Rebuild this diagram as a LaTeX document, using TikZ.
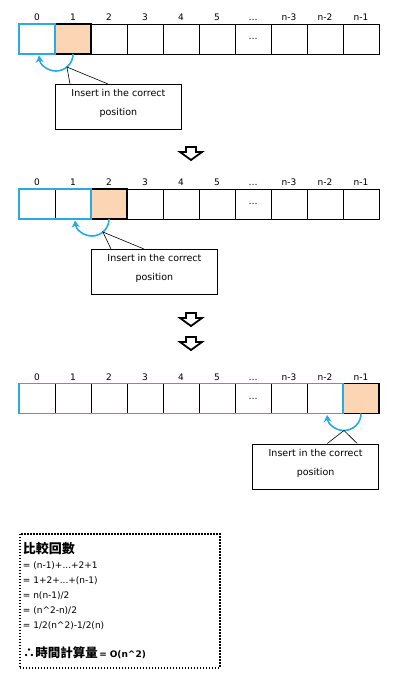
\documentclass[tikz,border=0pt]{standalone}
\usepackage{fontspec}
\setmainfont{DejaVu Sans}
\newfontfamily\cjk{Noto Sans CJK TC}
\usetikzlibrary{positioning,arrows.meta}
\definecolor{arrblue}{RGB}{41,171,226}
\definecolor{peach}{RGB}{252,213,180}

\begin{document}
\begin{tikzpicture}[x=1pt,y=1pt,
  cell/.style={draw,line width=0.8pt,minimum width=36pt,minimum height=30pt,inner sep=0pt,outer sep=0pt},
  idx/.style={font=\fontsize{9}{10}\selectfont,anchor=base,inner sep=0pt},
  hot/.style={fill=peach,draw=black,line width=1.8pt},
  done/.style={draw=arrblue,line width=1.8pt},
  swap/.style={arrblue,line width=1.6pt,-{Stealth[length=7pt,width=8pt]}},
  callout/.style={draw,line width=0.8pt,minimum width=126pt,minimum height=45pt,align=center,inner sep=0pt,font=\fontsize{9.5}{19}\selectfont},
  downarr/.pic={\draw[line width=1.8pt,line join=miter] (-5,0) -- (5,0) -- (5,-5) -- (11,-5) -- (0,-13) -- (-11,-5) -- (-5,-5) -- cycle;}]

\useasboundingbox (0,0) rectangle (412,-682);

\foreach \r/\y in {1/-39,2/-204,3/-398.5}{
  \foreach \i/\t in {0/0,1/1,2/2,3/3,4/4,5/5,6/\dots,7/n-3,8/n-2,9/n-1}{
    \node[cell] (r\r-\i) at ({37+36*\i},\y) {};
    \node[idx] (l\r-\i) at ([yshift=3.5pt]r\r-\i.north) {\t};
  }
  \node[idx,anchor=center] (d\r) at (r\r-6) {\dots};
}

\draw[hot] (r1-1.north west) rectangle (r1-1.south east);
\draw[done] (r1-0.north west) rectangle (r1-0.south east);
\draw[hot] (r2-2.north west) rectangle (r2-2.south east);
\draw[done] (r2-0.north west) rectangle (r2-1.south east);
\draw[hot] (r3-9.north west) rectangle (r3-9.south east);
\draw[done] (r3-0.north west) rectangle (r3-8.south east);

\foreach \r/\h/\s in {1/1/-50,2/2/-50,3/9/-90}{
  \coordinate (o\r) at ([xshift=-17pt]r\r-\h.south);
  \coordinate (m\r) at ([shift={(\s:17pt)}]o\r);
  \draw[swap] (r\r-\h.south) arc[start angle=0,end angle=-175,radius=17pt];
}

\node[callout,below right=30pt and 0pt of r1-1.south west] (c1) {Insert in the correct\\position\rule[-9pt]{0pt}{9pt}};
\node[callout,below right=30pt and 0pt of r2-2.south west] (c2) {Insert in the correct\\position\rule[-9pt]{0pt}{9pt}};
\node[callout,below left=30pt and 0pt of r3-9.south east] (c3) {Insert in the correct\\position\rule[-9pt]{0pt}{9pt}};
\draw[line width=0.6pt] ([xshift=15pt]c1.north west) -- (m1) -- ([xshift=53pt]c1.north west);
\draw[line width=0.6pt] ([xshift=20pt]c2.north west) -- (m2) -- ([xshift=53pt]c2.north west);
\draw[line width=0.6pt] ([xshift=75pt]c3.north west) -- (m3) -- ([xshift=105pt]c3.north west);

\pic at (191,-147) {downarr};
\pic at (191,-313) {downarr};
\pic at (191,-337) {downarr};

\node[draw,line width=1.5pt,dash pattern=on 1.5pt off 1.5pt,anchor=north west,minimum width=200pt,minimum height=134pt,text width=194pt,inner xsep=3pt,align=left,font=\fontsize{9}{15}\selectfont] (cost) at (19,-533)
  {{\cjk\bfseries\fontsize{13}{15}\selectfont 比較回數}\\
   = (n-1)+...+2+1\\
   = 1+2+...+(n-1)\\
   = n(n-1)/2\\
   = (n\textasciicircum2-n)/2\\
   = 1/2(n\textasciicircum2)-1/2(n)\\[14pt]
   {\cjk\bfseries\fontsize{12.5}{15}\selectfont ∴時間計算量}{\bfseries\,= O(n\textasciicircum2)}};
\end{tikzpicture}
\end{document}
